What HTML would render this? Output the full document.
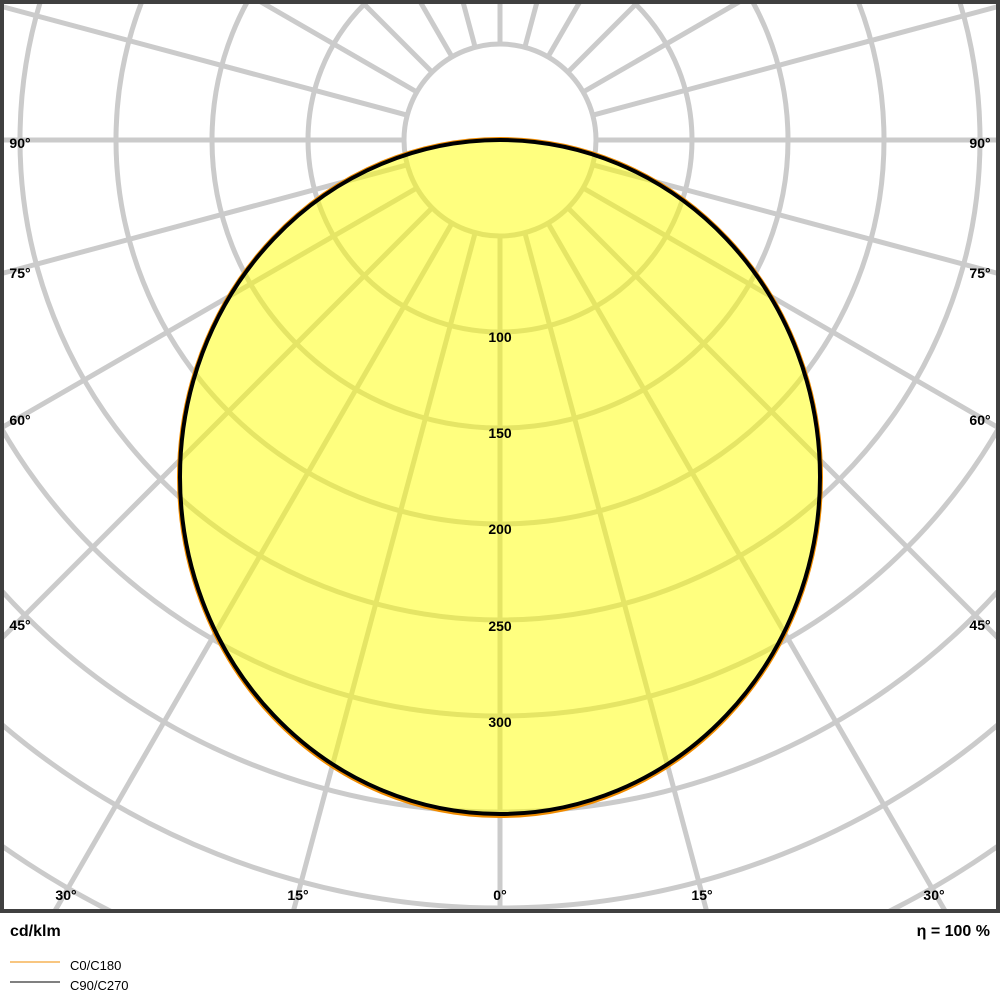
<!DOCTYPE html>
<html><head><meta charset="utf-8"><style>
html,body{margin:0;padding:0;background:#fff;width:1000px;height:1000px;overflow:hidden;font-family:"Liberation Sans",Arial,sans-serif}
svg{display:block}
</style></head><body>
<svg width="1000" height="1000" xmlns="http://www.w3.org/2000/svg" font-family="Liberation Sans, Arial, sans-serif">
<defs><clipPath id="c"><rect x="2" y="2" width="996" height="908"/></clipPath></defs>
<g clip-path="url(#c)" stroke="#cbcbcb" stroke-width="5" fill="none">
<circle cx="500" cy="140" r="96"/>
<circle cx="500" cy="140" r="192"/>
<circle cx="500" cy="140" r="288"/>
<circle cx="500" cy="140" r="384"/>
<circle cx="500" cy="140" r="480"/>
<circle cx="500" cy="140" r="576"/>
<circle cx="500" cy="140" r="672"/>
<circle cx="500" cy="140" r="768"/>
<circle cx="500" cy="140" r="864"/>
<circle cx="500" cy="140" r="960"/>
<line x1="500" y1="236" x2="500" y2="1400"/>
<line x1="500" y1="236" x2="500" y2="1400" transform="rotate(15 500 140)"/>
<line x1="500" y1="236" x2="500" y2="1400" transform="rotate(30 500 140)"/>
<line x1="500" y1="236" x2="500" y2="1400" transform="rotate(45 500 140)"/>
<line x1="500" y1="236" x2="500" y2="1400" transform="rotate(60 500 140)"/>
<line x1="500" y1="236" x2="500" y2="1400" transform="rotate(75 500 140)"/>
<line x1="500" y1="236" x2="500" y2="1400" transform="rotate(90 500 140)"/>
<line x1="500" y1="236" x2="500" y2="1400" transform="rotate(105 500 140)"/>
<line x1="500" y1="236" x2="500" y2="1400" transform="rotate(120 500 140)"/>
<line x1="500" y1="236" x2="500" y2="1400" transform="rotate(135 500 140)"/>
<line x1="500" y1="236" x2="500" y2="1400" transform="rotate(150 500 140)"/>
<line x1="500" y1="236" x2="500" y2="1400" transform="rotate(165 500 140)"/>
<line x1="500" y1="236" x2="500" y2="1400" transform="rotate(180 500 140)"/>
<line x1="500" y1="236" x2="500" y2="1400" transform="rotate(195 500 140)"/>
<line x1="500" y1="236" x2="500" y2="1400" transform="rotate(210 500 140)"/>
<line x1="500" y1="236" x2="500" y2="1400" transform="rotate(225 500 140)"/>
<line x1="500" y1="236" x2="500" y2="1400" transform="rotate(240 500 140)"/>
<line x1="500" y1="236" x2="500" y2="1400" transform="rotate(255 500 140)"/>
<line x1="500" y1="236" x2="500" y2="1400" transform="rotate(270 500 140)"/>
<line x1="500" y1="236" x2="500" y2="1400" transform="rotate(285 500 140)"/>
<line x1="500" y1="236" x2="500" y2="1400" transform="rotate(300 500 140)"/>
<line x1="500" y1="236" x2="500" y2="1400" transform="rotate(315 500 140)"/>
<line x1="500" y1="236" x2="500" y2="1400" transform="rotate(330 500 140)"/>
<line x1="500" y1="236" x2="500" y2="1400" transform="rotate(345 500 140)"/>
</g>
<ellipse cx="500" cy="477.5" rx="321" ry="338.5" fill="none" stroke="#f08c00" stroke-width="4"/>
<ellipse cx="500" cy="477" rx="320" ry="337" fill="rgba(255,255,0,0.5)" stroke="#000" stroke-width="4"/>
<g font-size="14" font-weight="bold" fill="#000" text-anchor="middle">
<text x="500" y="342">100</text>
<text x="500" y="438">150</text>
<text x="500" y="534">200</text>
<text x="500" y="631">250</text>
<text x="500" y="727">300</text>
<text x="20" y="148">90°</text><text x="980" y="148">90°</text>
<text x="20" y="278">75°</text><text x="980" y="278">75°</text>
<text x="20" y="425">60°</text><text x="980" y="425">60°</text>
<text x="20" y="630">45°</text><text x="980" y="630">45°</text>
<text x="66" y="900">30°</text><text x="934" y="900">30°</text>
<text x="298" y="900">15°</text><text x="702" y="900">15°</text>
<text x="500" y="900">0°</text>
</g>
<rect x="2" y="2" width="996" height="909" fill="none" stroke="#404040" stroke-width="4"/>
<text x="10" y="936" font-size="16" font-weight="bold">cd/klm</text>
<text x="990" y="936" font-size="16" font-weight="bold" text-anchor="end">η = 100 %</text>
<line x1="10" y1="962" x2="60" y2="962" stroke="#f08c00" stroke-width="1"/>
<line x1="10" y1="982" x2="60" y2="982" stroke="#000" stroke-width="1"/>
<text x="70" y="970" font-size="13">C0/C180</text>
<text x="70" y="990" font-size="13">C90/C270</text>
</svg>
</body></html>
